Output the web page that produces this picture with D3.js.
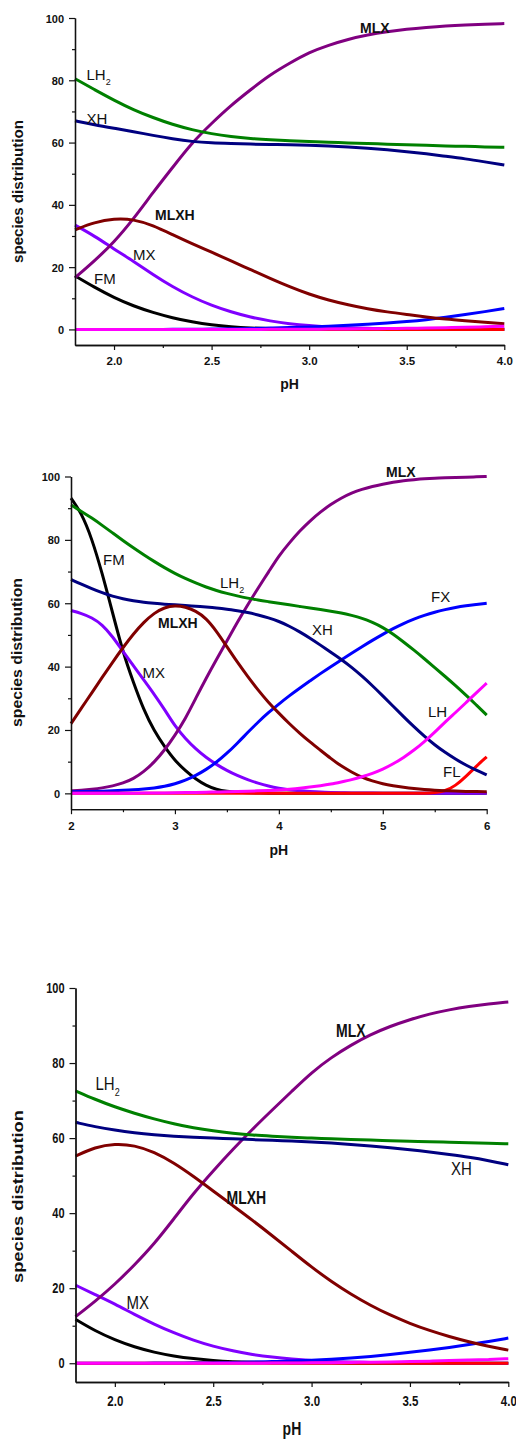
<!DOCTYPE html>
<html><head><meta charset="utf-8">
<script src="https://cdn.jsdelivr.net/npm/d3@7"></script>
<style>body{margin:0;background:#fff} svg{display:block} text{font-family:"Liberation Sans",Arial,sans-serif;fill:#111}</style>
</head><body>
<svg id="chart" width="516" height="1440"></svg>
<script>
// ---------- Panel 1 data ----------
const p1_pH   = [1.8,1.9,2.0,2.1,2.2,2.3,2.4,2.5,2.6,2.7,2.8,2.9,3.0,3.1,3.2,3.3,3.4,3.5,3.6,3.7,3.8,3.9,4.0];
const p1_LH2  = [80.5,77,73.6,70.5,68,65.8,64.1,62.8,61.9,61.3,60.9,60.6,60.3,60.1,59.9,59.7,59.5,59.3,59.1,58.9,58.8,58.6,58.5];
const p1_XH   = [67,65.7,64.6,63.5,62.3,61.2,60.3,59.9,59.7,59.5,59.4,59.3,59.1,58.9,58.6,58.2,57.7,57.1,56.4,55.6,54.8,53.8,52.8];
const p1_MLX  = [16.6,22,28,35.5,44,52,60,66.2,72,77,81.8,85.5,89,91.3,93.2,94.6,95.6,96.4,97,97.5,97.8,98,98.2];
const p1_MLXH = [32,34.4,35.6,35.4,33.4,30.4,27.5,24.8,22,19.2,16.4,13.7,11.3,9.4,7.9,6.6,5.6,4.8,4.0,3.3,2.8,2.3,1.8];
const p1_MX   = [33.5,30,25.8,21.9,17.6,13.7,10.4,7.7,5.6,3.9,2.7,1.8,1.2,0.8,0.5,0.35,0.25,0.2,0.15,0.1,0.1,0.1,0.1];
const p1_FM   = [17.2,13.5,10.2,7.5,5.4,3.7,2.4,1.4,0.8,0.45,0.25,0.12,0.06,0.03,0.02,0.01,0,0,0,0,0,0,0];
const p1_FX   = [0,0,0,0,0,0.02,0.05,0.1,0.18,0.3,0.42,0.6,0.8,1.05,1.3,1.65,2.0,2.5,3.1,3.9,4.8,5.7,6.7];
const p1_LH   = [0,0,0,0,0,0,0,0,0,0,0.03,0.05,0.08,0.1,0.15,0.2,0.27,0.35,0.45,0.55,0.7,0.85,1.05];
const p1_FL   = [0,0,0,0,0,0,0,0,0,0,0,0,0,0,0,0,0,0,0,0,0,0,0];

// ---------- Panel 2 data ----------
const p2_pH   = [2.0,2.1,2.2,2.3,2.4,2.5,2.6,2.7,2.8,2.9,3.0,3.1,3.2,3.3,3.4,3.5,3.6,3.7,3.8,3.9,4.0,4.1,4.2,4.3,4.4,4.5,4.6,4.7,4.8,4.9,5.0,5.1,5.2,5.3,5.4,5.5,5.6,5.7,5.8,5.9,6.0];
const p2_FM   = [93.2,88.5,80.5,69.5,57,44.5,35,26.3,19.7,14.7,10.3,7.2,4.5,2.5,1.2,0.6,0.3,0.15,0.08,0.04,0,0,0,0,0,0,0,0,0,0,0,0,0,0,0,0,0,0,0,0,0];
const p2_MX   = [57.7,56.8,55.5,53.3,49.5,44.8,40.3,35.8,31.3,26.5,21.2,17.3,14,11.3,9.1,7.2,5.6,4.3,3.2,2.3,1.6,1.1,0.8,0.6,0.4,0.3,0.2,0.15,0.1,0.08,0.05,0,0,0,0,0,0,0,0,0,0];
const p2_MLXH = [22,26.9,31.7,36.6,41.4,46,50.3,54,56.9,58.7,59.3,58.9,57.6,55.3,51.2,46.3,41.4,36.9,32.6,28.7,25.3,22,19,16.2,13.6,11,8.6,6.7,5.0,3.9,3.0,2.4,1.9,1.5,1.2,1.0,0.85,0.7,0.6,0.55,0.5];
const p2_MLX  = [0.8,1.0,1.3,1.7,2.3,3.2,4.6,6.8,9.8,13.6,18.3,23.5,30,36.3,42.3,48,54,59.5,64.8,69.8,75,79,82.8,86,88.8,91.2,93.2,94.8,96,96.9,97.6,98.2,98.7,99,99.3,99.5,99.6,99.7,99.8,99.9,100];
const p2_FX   = [0.5,0.55,0.6,0.7,0.8,0.95,1.1,1.35,1.7,2.2,3.0,4.1,5.6,7.5,9.8,12.6,15.8,19.2,22.5,25.5,28.2,30.8,33.2,35.5,37.8,40,42.1,44.2,46.3,48.3,50.2,52,53.6,55,56.2,57.2,58,58.7,59.2,59.6,60];
const p2_XH   = [67.5,66,64.6,63.3,62.2,61.4,60.8,60.3,60,59.7,59.5,59.3,59.1,58.8,58.5,58.1,57.6,57.1,56.3,55.4,54.3,52.8,51,49,46.8,44.5,42.3,39.8,37,34,30.8,27.5,24.2,21,18,15.3,12.9,10.8,8.9,7.3,5.8];
const p2_LH2  = [91,89,86.9,84.6,82.2,79.8,77.5,75.3,73.2,71.2,69.4,67.8,66.4,65.1,64,63.1,62.3,61.6,61,60.5,60,59.5,59,58.5,58,57.5,57,56.2,55.3,54,52.4,50.3,47.8,45.2,42.5,39.7,36.9,34,31,27.9,24.7];
const p2_LH   = [0,0,0,0,0,0.05,0.05,0.1,0.1,0.15,0.2,0.25,0.3,0.35,0.45,0.5,0.6,0.7,0.8,0.9,1.0,1.3,1.6,2.0,2.4,2.9,3.6,4.3,5.2,6.3,7.6,9.3,11.3,13.6,16.3,19.3,22.5,25.5,28.6,31.7,34.8];
const p2_FL   = [0,0,0,0,0,0,0,0,0,0,0,0,0,0,0,0,0,0,0,0,0,0,0,0,0,0,0,0,0,0,0,0,0,0,0,0.2,0.7,2.4,5.3,8.6,11.5];

// ---------- Panel 3 data ----------
const p3_pH   = [1.8,1.9,2.0,2.1,2.2,2.3,2.4,2.5,2.6,2.7,2.8,2.9,3.0,3.1,3.2,3.3,3.4,3.5,3.6,3.7,3.8,3.9,4.0];
const p3_LH2  = [72.6,70.3,68.3,66.6,65.1,63.8,62.7,61.9,61.3,60.8,60.5,60.2,60.0,59.8,59.6,59.5,59.3,59.2,59.0,58.9,58.8,58.6,58.5];
const p3_XH   = [64.2,63,62.1,61.4,60.9,60.5,60.2,60.0,59.8,59.6,59.4,59.2,59.0,58.7,58.3,57.9,57.4,56.9,56.3,55.6,54.9,54.0,52.9];
const p3_MLX  = [12.4,16.5,21,26.2,31.8,38.5,45.3,51.3,57,62.4,67.5,72.5,77.5,81.5,84.8,87.6,89.8,91.6,93.1,94.2,95.1,95.8,96.3];
const p3_MLXH = [55.2,57.6,58.5,58.1,56.3,53.4,49.8,45.9,42,38.1,34,29.8,25.6,21.8,18.4,15.4,12.8,10.6,8.7,7.1,5.7,4.5,3.5];
const p3_MX   = [20.8,18.3,15.8,13,10.4,8.1,6.1,4.5,3.3,2.3,1.6,1.1,0.7,0.45,0.3,0.2,0.12,0.08,0.05,0.03,0.02,0.01,0];
const p3_FM   = [11.7,8.6,6.2,4.3,2.9,1.9,1.2,0.7,0.4,0.25,0.15,0.08,0.05,0.03,0.02,0.01,0,0,0,0,0,0,0];
const p3_FX   = [0,0,0,0.02,0.04,0.07,0.1,0.15,0.22,0.32,0.45,0.6,0.8,1.05,1.4,1.8,2.3,2.9,3.5,4.2,5.0,5.8,6.7];
const p3_LH   = [0,0,0,0,0,0,0,0,0,0,0.05,0.07,0.1,0.15,0.2,0.27,0.35,0.45,0.55,0.7,0.85,1.0,1.2];
const p3_FL   = [0,0,0,0,0,0,0,0,0,0,0,0,0,0,0,0,0,0,0,0,0,0,0];

// ---------- Axis ticks ----------
const yMajor = [0,20,40,60,80,100];
const yMinor = [10,30,50,70,90];
const xMajorA = [2.0,2.5,3.0,3.5,4.0];
const xMinorA = [2.25,2.75,3.25,3.75];
const xMajorB = [2,3,4,5,6];
const xMinorB = [2.5,3.5,4.5,5.5];

const drawOrder = ["FM","MX","MLX","FX","FL","XH","LH2","MLXH","LH"];
const colors = {LH2:"#008000", XH:"#000080", MLX:"#800080", MLXH:"#800000", MX:"#8000FF",
                FM:"#000000", FX:"#0000FF", LH:"#FF00FF", FL:"#FF0000"};

const panels = [
  { pH:p1_pH, s:{LH2:p1_LH2,XH:p1_XH,MLX:p1_MLX,MLXH:p1_MLXH,MX:p1_MX,FM:p1_FM,FX:p1_FX,LH:p1_LH,FL:p1_FL},
    xd:[1.8,4.0], xr:[75,504.3], yr:[345,18], xMaj:xMajorA, xMin:xMinorA, fmt:".1f", sy:1,
    tickBase:20, pHBase:389, titleX:23.3, titleCY:191.5, titleLen:143,
    labels:[
      {t:"MLX",x:360,y:33,b:true},{t:"LH",x:86.5,y:80,sub:"2"},{t:"XH",x:86.5,y:124},
      {t:"MLXH",x:155,y:220,b:true},{t:"MX",x:133,y:260},{t:"FM",x:94,y:284}]},
  { pH:p2_pH, s:{LH2:p2_LH2,XH:p2_XH,MLX:p2_MLX,MLXH:p2_MLXH,MX:p2_MX,FM:p2_FM,FX:p2_FX,LH:p2_LH,FL:p2_FL},
    xd:[2,6], xr:[71,486.7], yr:[809.2,476.5], xMaj:xMajorB, xMin:xMinorB, fmt:"d", sy:1,
    tickBase:21, pHBase:855, titleX:21.7, titleCY:652.5, titleLen:149,
    labels:[
      {t:"MLX",x:386,y:477,b:true},{t:"FM",x:103,y:565},{t:"LH",x:220,y:588,sub:"2"},
      {t:"MLXH",x:158,y:628,b:true},{t:"XH",x:312,y:635},{t:"FX",x:431,y:602},
      {t:"MX",x:142.5,y:678},{t:"LH",x:428,y:717},{t:"FL",x:443,y:777}]},
  { pH:p3_pH, s:{LH2:p3_LH2,XH:p3_XH,MLX:p3_MLX,MLXH:p3_MLXH,MX:p3_MX,FM:p3_FM,FX:p3_FX,LH:p3_LH,FL:p3_FL},
    xd:[1.8,4.0], xr:[75.5,508.3], yr:[1382,988], xMaj:xMajorA, xMin:xMinorA, fmt:".1f", sy:1.27,
    tickBase:24, pHBase:1435, titleX:23.3, titleCY:1196.5, titleLen:173,
    labels:[
      {t:"LH",x:95.5,y:1090,sub:"2"},{t:"MLX",x:336,y:1037,b:true},{t:"XH",x:451,y:1175},
      {t:"MLXH",x:226.5,y:1204,b:true},{t:"MX",x:126.5,y:1309}]}
];

const svg = d3.select("#chart");

panels.forEach(p => {
  const x = d3.scaleLinear().domain(p.xd).range(p.xr);
  const y = d3.scaleLinear().domain([-5,100]).range(p.yr);
  const g = svg.append("g");

  // curves
  const line = d3.line().curve(d3.curveBasis);
  drawOrder.forEach(k => {
    const pts = p.pH.map((v,i) => [x(v), y(p.s[k][i])]);
    g.append("path").attr("d", line(pts)).attr("fill","none")
      .attr("stroke", colors[k]).attr("stroke-width", 3).attr("stroke-linejoin","round");
  });

  // y axis
  const yAx = g.append("g").attr("transform",`translate(${p.xr[0]},0)`)
    .call(d3.axisLeft(y).tickValues(yMajor).tickSize(6).tickSizeOuter(0).tickPadding(4));
  g.append("g").attr("transform",`translate(${p.xr[0]},0)`)
    .call(d3.axisLeft(y).tickValues(yMinor).tickSize(3).tickSizeOuter(0).tickFormat(""));
  // x axis
  const xAx = g.append("g").attr("transform",`translate(0,${p.yr[0]})`)
    .call(d3.axisBottom(x).tickValues(p.xMaj).tickSize(5).tickSizeOuter(0).tickFormat(d3.format(p.fmt)));
  g.append("g").attr("transform",`translate(0,${p.yr[0]})`)
    .call(d3.axisBottom(x).tickValues(p.xMin).tickSize(3).tickSizeOuter(0).tickFormat(""));

  g.selectAll(".domain").attr("stroke","#111").attr("stroke-width",1.3);
  g.selectAll(".tick line").attr("stroke","#111").attr("stroke-width",1.2);

  yAx.selectAll("text").attr("font-size",11).attr("font-weight","bold")
    .attr("font-family","Liberation Sans, Arial, sans-serif")
    .attr("x",null).attr("dy",null).attr("y",null)
    .attr("transform",`translate(-11,0) scale(1,${p.sy})`)
    .attr("dominant-baseline","central").attr("text-anchor","end");
  xAx.selectAll("text").attr("font-size",11.5).attr("font-weight","bold")
    .attr("font-family","Liberation Sans, Arial, sans-serif")
    .attr("y",null).attr("dy",null)
    .attr("transform",`translate(0,${p.tickBase}) scale(1,${p.sy})`);

  // axis titles
  g.append("text").attr("transform",`translate(${(p.xr[0]+p.xr[1])/2},${p.pHBase}) scale(1,${p.sy})`)
    .attr("text-anchor","middle").attr("font-size",14).attr("font-weight","bold").text("pH");
  g.append("text").attr("transform",`translate(${p.titleX},${p.titleCY}) rotate(-90)`)
    .attr("text-anchor","middle").attr("font-size",14).attr("font-weight","bold")
    .attr("textLength",p.titleLen).attr("lengthAdjust","spacingAndGlyphs")
    .text("species distribution");

  // curve labels
  p.labels.forEach(l => {
    const t = g.append("text").attr("transform",`translate(${l.x},${l.y}) scale(1,${p.sy})`)
      .attr("font-size", l.b ? 14 : 15).attr("font-weight", l.b ? "bold" : "normal")
      .attr("fill","#222").text(l.t);
    if (l.sub) t.append("tspan").attr("font-size",9).attr("dy",5).text(l.sub);
  });
});
</script>
</body></html>
